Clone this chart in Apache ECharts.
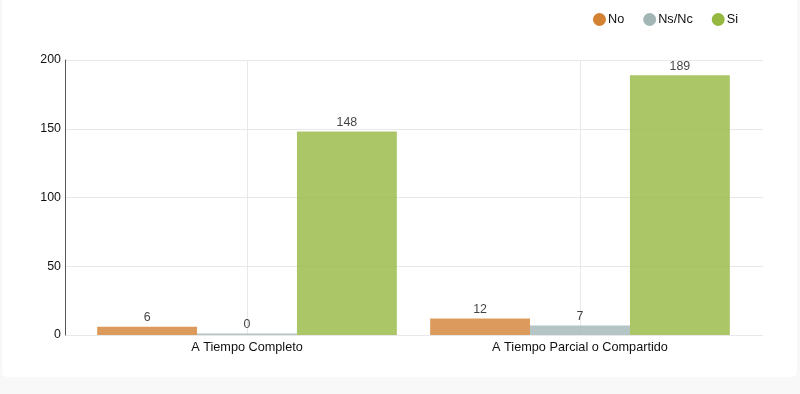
<!DOCTYPE html>
<html><head><meta charset="utf-8">
<script src="https://cdn.jsdelivr.net/npm/echarts@6/dist/echarts.min.js"></script>
<style>
html,body{margin:0;padding:0;background:#f8f8f8;width:800px;height:394px;overflow:hidden;}
#card{position:absolute;left:2px;top:-6px;width:795px;height:383px;background:#fff;border-radius:5px;}
#c{position:absolute;left:0;top:0;width:800px;height:394px;}
</style></head>
<body><div id="card"></div><div id="c"></div>
<script>
const categories = ['A Tiempo Completo', 'A Tiempo Parcial o Compartido'];
const seriesNames = ['No', 'Ns/Nc', 'Si'];
const valuesNo = [6, 12];
const valuesNsNc = [0, 7];
const valuesSi = [148, 189];
const yTicks = [0, 50, 100, 150, 200];
const colors = ['#d38133', '#a3b6b6', '#96b841'];

const chart = echarts.init(document.getElementById('c'), null, {renderer: 'canvas'});
const font = 'Liberation Sans, Arial, sans-serif';
const allValues = [valuesNo, valuesNsNc, valuesSi];
chart.setOption({
  textStyle: {fontFamily: font},
  legend: {
    data: seriesNames.map((n, i) => ({name: n, itemStyle: {color: colors[i], opacity: 1}})),
    right: 57, top: 8, icon: 'circle', itemWidth: 13, itemHeight: 13, itemGap: 19,
    textStyle: {fontSize: 12.7, color: '#111', fontFamily: font, padding: [0, 0, 0, -3]}
  },
  grid: [
    {left: 65, right: 37, top: 60, bottom: 59},
    {left: 80.5, right: 53.5, top: 60, bottom: 59}
  ],
  xAxis: [
    {gridIndex: 0, type: 'category', data: ['a'], show: true, axisLine: {show: false}, axisTick: {show: false}, axisLabel: {show: false}, splitLine: {show: false}},
    {gridIndex: 1, type: 'category', data: categories,
     axisLine: {show: false}, axisTick: {show: false, alignWithLabel: true},
     axisLabel: {color: '#111', fontSize: 12.7, margin: 6, fontFamily: font},
     splitLine: {show: true, alignWithLabel: true, lineStyle: {color: '#e8e8e8', width: 1}}}
  ],
  yAxis: [
    {gridIndex: 0, type: 'value', min: 0, max: 200, interval: 50,
     axisLine: {show: true, lineStyle: {color: '#555', width: 1}}, axisTick: {show: false},
     axisLabel: {color: '#111', fontSize: 12.4, margin: 4, fontFamily: font},
     splitLine: {show: true, lineStyle: {color: '#e8e8e8', width: 1}}},
    {gridIndex: 1, type: 'value', min: 0, max: 200, interval: 50, show: false, splitLine: {show: false}}
  ],
  series: seriesNames.map((n, i) => ({
    name: n, type: 'bar', xAxisIndex: 1, yAxisIndex: 1,
    data: allValues[i], barGap: '0%', barCategoryGap: '10%', barMinHeight: 1.5,
    itemStyle: {color: colors[i], opacity: 0.8},
    emphasis: {disabled: true},
    label: {show: true, position: 'top', color: '#111', fontSize: 12.4, distance: 3, fontFamily: font}
  }))
});
</script></body></html>
